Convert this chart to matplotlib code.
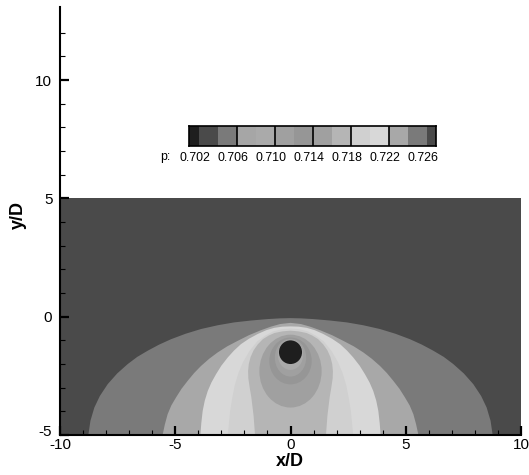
import numpy as np
import matplotlib.pyplot as plt
from matplotlib.patches import Polygon, Ellipse, Rectangle
from matplotlib import transforms

plt.rcParams['font.family'] = ['Liberation Sans', 'DejaVu Sans']
plt.rcParams['axes.unicode_minus'] = False

# contour levels of p and grey of each band (below first level ... above last level)
levels = [0.702, 0.704, 0.706, 0.708, 0.710, 0.712, 0.714,
          0.716, 0.718, 0.720, 0.722, 0.724, 0.726]
band_colors = ['#1e1e1e', '#4a4a4a', '#7a7a7a', '#a6a6a6', '#aaaaaa', '#a0a0a0', '#969696',
               '#a0a0a0', '#b5b5b5', '#d0d0d0', '#d8d8d8', '#a8a8a8', '#7a7a7a', '#4a4a4a']
label_levels = [0.702, 0.706, 0.710, 0.714, 0.718, 0.722, 0.726]

# field domain (band 13 everywhere)
domain_x = [-10, 10]
domain_y = [-5, 5]

# left halves of the band boundaries, from the floor y = -5 up to x = 0
# (the field is mirror symmetric about x = 0)
dome_hx = [-8.77, -8.68, -8.51, -8.27, -7.93, -7.52, -7.06, -6.65, -6.20, -5.70,
           -5.18, -4.55, -3.88, -3.15, -2.44, -1.70, -0.99, -0.45, 0.0]
dome_hy = [-5.0, -4.40, -3.84, -3.35, -2.85, -2.40, -2.00, -1.70, -1.44, -1.18,
           -0.95, -0.72, -0.52, -0.36, -0.24, -0.16, -0.10, -0.07, -0.06]

mid_hx = [-5.55, -5.45, -5.33, -5.17, -4.97, -4.73, -4.46, -4.18, -3.88, -3.53,
          -3.16, -2.74, -2.29, -1.80, -1.28, -0.85, -0.45, 0.0]
mid_hy = [-5.0, -4.55, -4.12, -3.75, -3.42, -3.05, -2.71, -2.38, -2.08, -1.78,
          -1.51, -1.25, -1.02, -0.78, -0.57, -0.42, -0.31, -0.26]

light_hx = [-3.91, -3.87, -3.81, -3.72, -3.59, -3.43, -3.23, -3.00, -2.72, -2.45,
            -2.15, -1.80, -1.42, -1.05, -0.70, -0.35, 0.0]
light_hy = [-5.0, -4.50, -3.98, -3.55, -3.14, -2.78, -2.43, -2.07, -1.72, -1.43,
            -1.16, -0.93, -0.73, -0.57, -0.47, -0.42, -0.41]

inner_hx = [-2.72, -2.67, -2.62, -2.53, -2.42, -2.26, -2.05, -1.78, -1.45, -1.10,
            -0.75, -0.38, 0.0]
inner_hy = [-5.0, -4.50, -4.00, -3.45, -2.90, -2.38, -1.90, -1.45, -1.05, -0.80,
            -0.62, -0.53, -0.50]

bulb_hx = [-1.54, -1.57, -1.60, -1.65, -1.70, -1.77, -1.83, -1.84, -1.81, -1.73,
           -1.60, -1.42, -1.20, -0.95, -0.70, -0.35, 0.0]
bulb_hy = [-5.0, -4.60, -4.20, -3.80, -3.40, -3.00, -2.60, -2.30, -2.00, -1.70,
           -1.42, -1.17, -0.95, -0.80, -0.69, -0.62, -0.59]

open_bands = [(dome_hx, dome_hy, 12), (mid_hx, mid_hy, 11), (light_hx, light_hy, 10),
              (inner_hx, inner_hy, 9), (bulb_hx, bulb_hy, 8)]

# egg shaped bands round the cylinder
egg_cy = [-2.30, -1.87, -1.73, -1.61]
egg_w = [2.70, 1.84, 1.36, 1.10]
egg_h = [3.08, 1.98, 1.60, 1.28]
egg_band = [7, 6, 5, 4]

# cylinder
cyl_x, cyl_y, cyl_d = 0.0, -1.5, 1.0

fig = plt.figure(figsize=(5.29, 4.75), dpi=100)
ax = fig.add_axes([60 / 529, 1 - 435 / 475, 461 / 529, 428 / 475])

ax.add_patch(Rectangle((domain_x[0], domain_y[0]), domain_x[1] - domain_x[0],
                       domain_y[1] - domain_y[0], facecolor=band_colors[13],
                       edgecolor='none', zorder=1))
for hx, hy, b in open_bands:
    hx = np.array(hx)
    hy = np.array(hy)
    xs = np.concatenate([hx, -hx[-2::-1]])
    ys = np.concatenate([hy, hy[-2::-1]])
    ax.add_patch(Polygon(np.column_stack([xs, ys]), closed=True,
                         facecolor=band_colors[b], edgecolor='none', zorder=1))
for cy, w, h, b in zip(egg_cy, egg_w, egg_h, egg_band):
    ax.add_patch(Ellipse((0, cy), w, h, facecolor=band_colors[b], edgecolor='none', zorder=1))
ax.add_patch(Ellipse((cyl_x, cyl_y), cyl_d, cyl_d, facecolor=band_colors[0],
                     edgecolor='none', zorder=1))

ax.set_xlim(-10, 10)
ax.set_ylim(-5, 13.09)
ax.spines['top'].set_visible(False)
ax.spines['right'].set_visible(False)
for s in ['left', 'bottom']:
    ax.spines[s].set_linewidth(1.5)
    ax.spines[s].set_zorder(5)

ax.set_xticks([-10, -5, 0, 5, 10])
ax.set_xticklabels(['-10', '-5', '0', '5', '10'])
ax.set_yticks([-5, 0, 5, 10])
ax.set_yticklabels(['-5', '0', '5', '10'])
ax.set_xticks(np.arange(-9, 10), minor=True)
ax.set_yticks(np.arange(-4, 13), minor=True)
ax.tick_params(which='major', direction='in', length=6.5, width=1.6, labelsize=11)
ax.tick_params(which='minor', direction='in', length=3.6, width=0.8)
ax.tick_params(axis='x', which='major', pad=2)
ax.tick_params(axis='y', which='major', pad=5.5)
ax.patch.set_alpha(0)

# lift the lowest y label a little, as in the original, so it clears "-10"
low = ax.get_yticklabels()[0]
low.set_transform(low.get_transform() + transforms.ScaledTranslation(0, 3 / 72, fig.dpi_scale_trans))

fig.text(290 / 529, 1 - 462 / 475, 'x/D', fontsize=13, fontweight='bold',
         ha='center', va='center')
fig.text(18 / 529, 1 - 215 / 475, 'y/D', fontsize=13, fontweight='bold',
         rotation=90, ha='center', va='center')

# legend bar
cax = fig.add_axes([189 / 529, 1 - 146 / 475, 247 / 529, 20 / 475])
edges = np.array([levels[0] - 0.001] + levels + [levels[-1] + 0.001])
cax.bar(edges[:-1], 1, width=np.diff(edges), align='edge', color=band_colors,
        edgecolor='none')
for v in label_levels[1:-1]:
    cax.axvline(v, color='black', lw=1.2)
cax.set_xlim(edges[0], edges[-1])
cax.set_ylim(0, 1)
cax.set_xticks([])
cax.set_yticks([])
for s in cax.spines.values():
    s.set_linewidth(1.2)
trans = transforms.offset_copy(
    transforms.blended_transform_factory(cax.transData, cax.transAxes),
    fig=fig, x=-3.5, y=0, units='dots')
for v in label_levels:
    cax.text(v, -0.58, f'{v:.3f}', transform=trans, ha='center', va='center',
             fontsize=8.9)
fig.text(165 / 529, 1 - 157.5 / 475, 'p:', fontsize=8.9, ha='center', va='center')

fig.savefig('out.png', dpi=100)
